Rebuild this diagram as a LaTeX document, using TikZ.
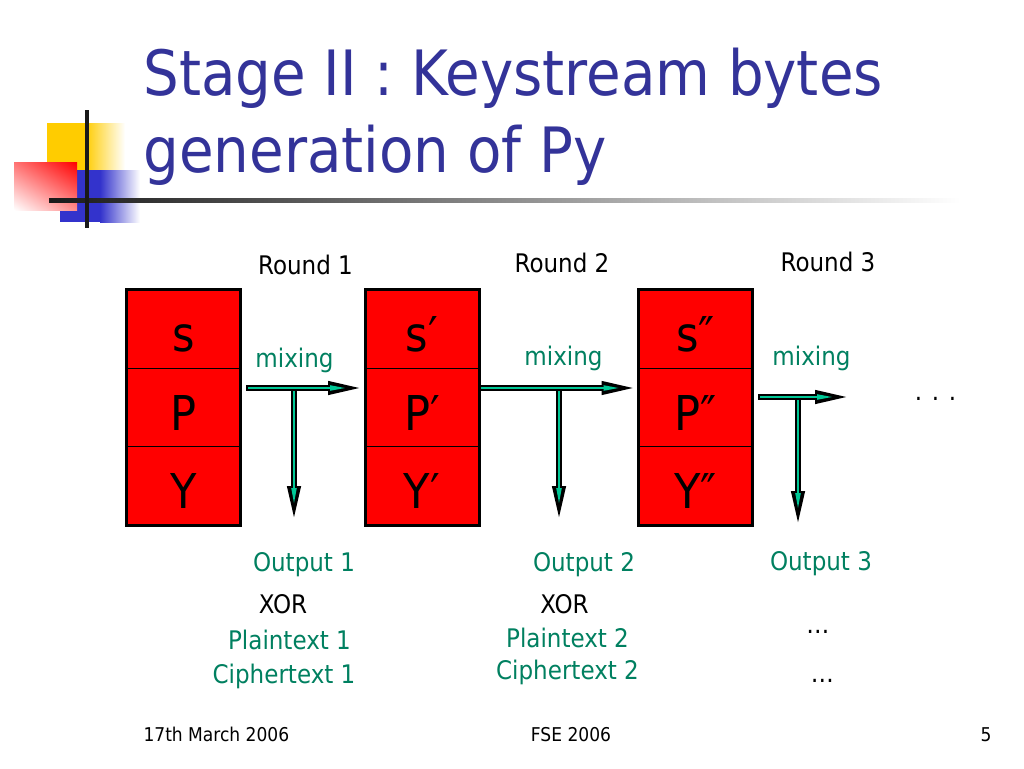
\documentclass[tikz,border=0pt]{standalone}
\usepackage{fontspec}
\setmainfont{DejaVu Sans Condensed}
\usetikzlibrary{arrows.meta,shadings}
\definecolor{titleblue}{RGB}{51,51,153}
\definecolor{txtgreen}{RGB}{0,128,96}
\definecolor{flowgreen}{RGB}{0,200,150}
\definecolor{logoyellow}{RGB}{255,204,0}
\definecolor{logoblue}{RGB}{51,51,204}
\tikzset{
  cell/.style={draw=black, line width=1pt, fill=red, minimum width=113pt,
    minimum height=78.5pt, inner sep=0pt, text height=45pt, text depth=0pt,
    font=\fontsize{48}{52}\selectfont},
  lbl/.style={anchor=base, font=\fontsize{25.6}{30}\selectfont},
  grn/.style={lbl, text=txtgreen},
  pipe/.style={line width=6.5pt, -{Triangle[length=37pt,width=12pt]}},
  pipecore/.style={line width=2pt, draw=flowgreen,
    -{Triangle[length=16pt,width=5pt]}, shorten >=19pt, shorten <=2pt},
  titletext/.style={anchor=base west, text=titleblue,
    font=\fontsize{62.5}{77}\selectfont},
  foot/.style={anchor=base, font=\fontsize{19}{22}\selectfont}
}
\begin{document}
\begin{tikzpicture}[x=1pt,y=-1pt]
  \fill[white] (0,0) rectangle (1024,768);
  \useasboundingbox (0,0) rectangle (1024,768);
  % logo
  \fill[logoyellow] (47,123) rectangle (85,170);
  \shade[left color=logoyellow, right color=white] (85,123) rectangle (125,170);
  \fill[logoblue] (60,170) rectangle (100,222);
  \shade[left color=logoblue, right color=white] (100,170) rectangle (140,222);
  \shade[upper left=red!55!white, upper right=red, lower left=white,
    lower right=red!45!white] (14,162) rectangle (77,210);
  \shade[left color=black!90, right color=white] (49,198) rectangle (960,202);
  \fill[black!90] (85,110) rectangle (89,228);
  % title
  \node[titletext] (title1) at (140,95) {Stage II : Keystream bytes};
  \node[titletext] (title2) at (140,172) {generation of Py};
  % state boxes
  \node[cell] (s1) at (183.5,329) {s};
  \node[cell] (p1) at (183.5,407.5) {P};
  \node[cell] (y1) at (183.5,486) {Y};
  \node[cell] (s2) at (422,329) {s′};
  \node[cell] (p2) at (422,407.5) {P′};
  \node[cell] (y2) at (422,486) {Y′};
  \node[cell] (s3) at (695.5,329) {s″};
  \node[cell] (p3) at (695.5,407.5) {P″};
  \node[cell] (y3) at (695.5,486) {Y″};
  \draw[line width=3pt] (s1.north west) rectangle (y1.south east);
  \draw[line width=3pt] (s2.north west) rectangle (y2.south east);
  \draw[line width=3pt] (s3.north west) rectangle (y3.south east);
  % mixing arrows
  \coordinate (m1) at (246,388);
  \coordinate (j1) at (294,388);
  \coordinate (o1) at (294,523);
  \coordinate (m2) at (p2.east |- 0,388);
  \coordinate (j2) at (559,388);
  \coordinate (o2) at (559,523);
  \coordinate (m3) at (758,397);
  \coordinate (e3) at (852,397);
  \coordinate (j3) at (798,397);
  \coordinate (o3) at (798,528);
  \draw[pipe] (j1) -- (o1);
  \draw[pipecore] (j1) -- (o1);
  \draw[pipe] (m1) -- (m1 -| p2.west);
  \draw[pipecore] (m1) -- (m1 -| p2.west);
  \draw[pipe] (j2) -- (o2);
  \draw[pipecore] (j2) -- (o2);
  \draw[pipe] (m2) -- (m2 -| p3.west);
  \draw[pipecore] (m2) -- (m2 -| p3.west);
  \draw[pipe] (j3) -- (o3);
  \draw[pipecore] (j3) -- (o3);
  \draw[pipe] (m3) -- (e3);
  \draw[pipecore] (m3) -- (e3);
  % labels
  \node[lbl] (r1) at (305.5,274) {Round 1};
  \node[lbl] (r2) at (562,272) {Round 2};
  \node[lbl] (r3) at (828,271) {Round 3};
  \node[grn] (x1) at (294.5,367) {mixing};
  \node[grn] (x2) at (563.5,365) {mixing};
  \node[grn] (x3) at (811.5,365) {mixing};
  \node[lbl] (more) at (935.5,400) {. . .};
  \node[grn] (out1) at (304,571) {Output 1};
  \node[grn] (out2) at (584,571) {Output 2};
  \node[grn] (out3) at (821,570) {Output 3};
  \node[lbl] (xor1) at (283,613) {XOR};
  \node[lbl] (xor2) at (564.5,613) {XOR};
  \node[lbl] (dots1) at (818,633) {…};
  \node[grn] (pt1) at (289.5,649) {Plaintext 1};
  \node[grn] (pt2) at (567.5,647) {Plaintext 2};
  \node[grn] (ct1) at (284,683) {Ciphertext 1};
  \node[grn] (ct2) at (567.5,679) {Ciphertext 2};
  \node[lbl] (dots2) at (822.5,682) {…};
  % footer
  \node[foot, anchor=base west] (date) at (140,741) {17th March 2006};
  \node[foot] (conf) at (571,741) {FSE 2006};
  \node[foot] (page) at (986,741) {5};
\end{tikzpicture}
\end{document}
